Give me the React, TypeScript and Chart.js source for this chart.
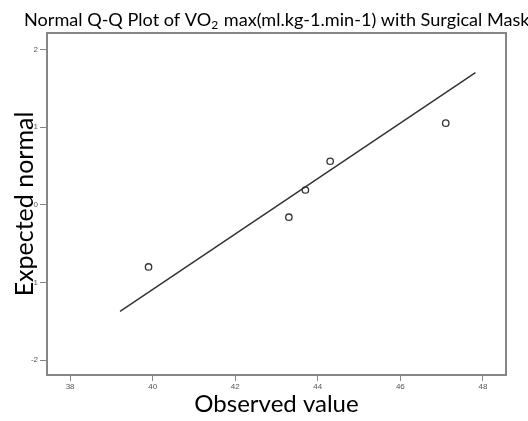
import { useEffect, useRef } from 'react';
import { Chart, registerables } from 'chart.js';

Chart.register(...registerables);

// Observed VO2 max values and their expected normal scores
const observed = [39.9, 43.3, 43.7, 44.3, 47.1];
const expected = [-0.8, -0.16, 0.19, 0.56, 1.05];

// Reference line end points
const lineObserved = [39.21, 47.82];
const lineExpected = [-1.37, 1.7];

// Axis ticks
const xTicks = [38, 40, 42, 44, 46, 48];
const yTicks = [-2, -1, 0, 1, 2];
const yTickLabels = ['-2', '1', '0', '1', '2'];

const titleParts = ['Normal Q-Q Plot of VO', '2', ' max(ml.kg-1.min-1) with Surgical Mask'];
const xTitle = 'Observed value';
const yTitle = 'Expected normal';

const W = 528;
const H = 421;
const FONT = 'Lato, "Open Sans", sans-serif';

const framePlugin = {
  id: 'frameAndTitle',
  afterDraw(chart: Chart) {
    const { ctx, chartArea } = chart;
    ctx.save();
    ctx.strokeStyle = '#868686';
    ctx.lineWidth = 2;
    ctx.strokeRect(chartArea.left, chartArea.top, chartArea.right - chartArea.left, chartArea.bottom - chartArea.top);

    // title with subscript
    ctx.fillStyle = '#000';
    ctx.textBaseline = 'alphabetic';
    ctx.textAlign = 'left';
    let x = 24;
    const y = 26;
    ctx.font = `18.1px ${FONT}`;
    ctx.fillText(titleParts[0], x, y);
    x += ctx.measureText(titleParts[0]).width;
    ctx.font = `12px ${FONT}`;
    ctx.fillText(titleParts[1], x, y + 3);
    x += ctx.measureText(titleParts[1]).width + 1;
    ctx.font = `18.1px ${FONT}`;
    ctx.fillText(titleParts[2], x, y);
    ctx.restore();
  },
};

export default function App() {
  const ref = useRef<HTMLCanvasElement | null>(null);

  useEffect(() => {
    if (!ref.current) return;
    const chart = new Chart(ref.current, {
      type: 'scatter',
      data: {
        datasets: [
          {
            label: 'Observed',
            data: observed.map((v, i) => ({ x: v, y: expected[i] })),
            pointStyle: 'circle',
            pointRadius: 3.2,
            borderColor: '#333',
            backgroundColor: 'rgba(255,255,255,0)',
            borderWidth: 1.3,
            showLine: false,
          },
          {
            label: 'Reference',
            data: lineObserved.map((v, i) => ({ x: v, y: lineExpected[i] })),
            showLine: true,
            borderColor: '#333',
            borderWidth: 1.5,
            pointRadius: 0,
          },
        ],
      },
      options: {
        responsive: false,
        animation: false,
        layout: { padding: { top: 33, right: 22, left: 0, bottom: 0 } },
        plugins: {
          legend: { display: false },
          tooltip: { enabled: false },
        },
        scales: {
          x: {
            type: 'linear',
            min: 37.44,
            max: 48.56,
            afterFit(scale: any) {
              scale.height = 46;
            },
            afterBuildTicks(scale: any) {
              scale.ticks = xTicks.map((v) => ({ value: v }));
            },
            border: { display: false },
            grid: {
              drawOnChartArea: false,
              drawTicks: true,
              tickLength: 6,
              color: '#868686',
            },
            ticks: {
              padding: 1,
              color: '#555',
              font: { family: 'Arial, "Liberation Sans", sans-serif', size: 8 },
              maxRotation: 0,
            },
            title: {
              display: true,
              text: xTitle,
              color: '#000',
              font: { family: FONT, size: 24 },
              padding: { top: 0, bottom: 2 },
            },
          },
          y: {
            type: 'linear',
            min: -2.19,
            max: 2.21,
            afterFit(scale: any) {
              scale.width = 47;
            },
            afterBuildTicks(scale: any) {
              scale.ticks = yTicks.map((v) => ({ value: v }));
            },
            border: { display: false },
            grid: {
              drawOnChartArea: false,
              drawTicks: true,
              tickLength: 7,
              color: '#868686',
            },
            ticks: {
              padding: 2,
              color: '#555',
              font: { family: 'Arial, "Liberation Sans", sans-serif', size: 8 },
              callback: (_v: any, i: number) => yTickLabels[i],
            },
            title: {
              display: true,
              text: yTitle,
              color: '#000',
              font: { family: FONT, size: 25 },
              padding: { top: 10, bottom: 0 },
            },
          },
        },
      },
      plugins: [framePlugin],
    });
    return () => chart.destroy();
  }, []);

  return (
    <div style={{ position: 'fixed', left: 0, top: 0, width: W, height: H, background: '#fff', overflow: 'hidden' }}>
      <canvas ref={ref} width={W} height={H} style={{ width: W, height: H, display: 'block' }} />
    </div>
  );
}
